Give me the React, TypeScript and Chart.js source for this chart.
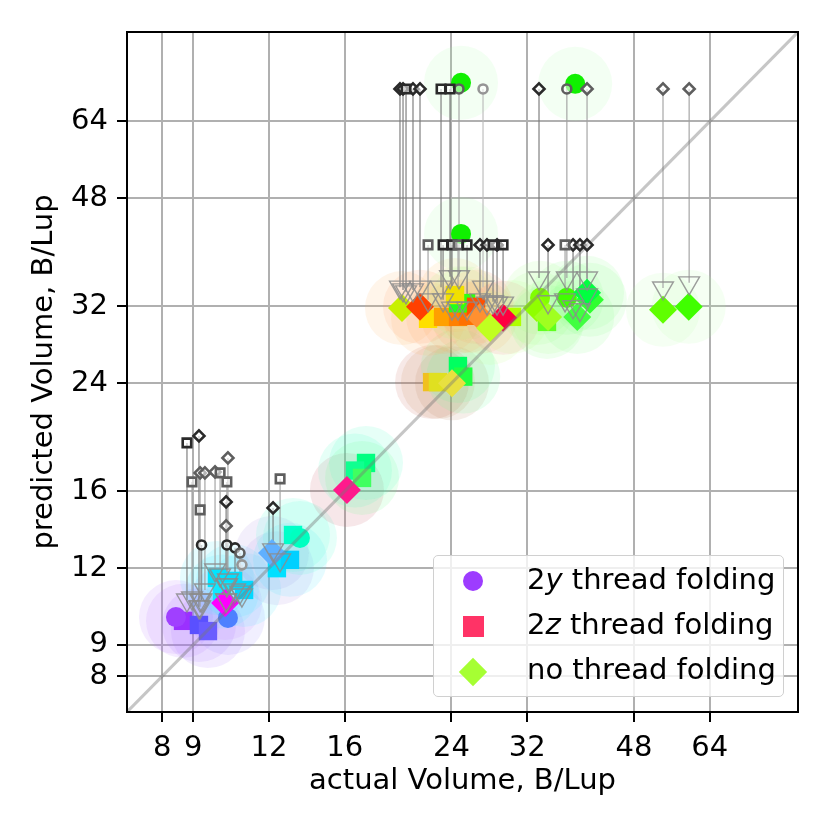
import React, { useEffect, useRef } from "react";
import { Chart, registerables } from "chart.js";

Chart.register(...registerables);

const FONT = "'DejaVu Sans', sans-serif";
const FONT_SIZE = 29;
const AXIS_MIN = 7.0;
const AXIS_MAX = 89.5;
const tickValues = [8, 9, 12, 16, 24, 32, 48, 64];
const xAxisTitle = "actual Volume, B/Lup";
const yAxisTitle = "predicted Volume, B/Lup";

// main measurements (y = 2y thread folding, z = 2z thread folding, n = no thread folding)
const actualVolume = [
  8.66, 8.43, 9.2, 9.52, 10.27, 10.16, 9.85, 10.47, 10.92, 10.04,
  12.14, 12.37, 13.0, 13.15, 13.5,
  16.14, 17.35, 16.64, 17.09,
  22.3, 22.8, 24.05, 24.6, 25.1,
  19.89, 21.3, 21.96, 23.25, 24.61, 25.56, 24.61, 25.37, 24.33, 26.75, 26.35, 29.2, 27.8, 30.2,
  33.2, 33.6, 37.2, 34.64, 34.5, 40.6, 40.17, 38.7, 53.6, 59.1,
  24.89, 38.4, 24.89,
];
const predictedVolume = [
  9.85, 9.99, 9.7, 9.48, 9.96, 10.53, 11.57, 11.44, 11.06, 11.0,
  12.7, 12.0, 12.38, 13.59, 13.44,
  16.09, 17.8, 17.3, 16.83,
  24.1, 24.1, 24.0, 25.6, 24.6,
  31.8, 31.96, 30.55, 30.77, 30.77, 30.9, 32.4, 32.4, 33.4, 30.77, 31.96, 30.66, 29.53, 30.77,
  31.8, 33.05, 33.05, 30.77, 30.2, 32.8, 33.67, 30.77, 31.6, 31.96,
  74.0, 73.7, 42.0,
];
const foldingKind = [
  "z", "y", "z", "z", "y", "n", "z", "z", "z", "z",
  "n", "z", "z", "z", "y",
  "n", "z", "z", "z",
  "z", "z", "n", "z", "z",
  "n", "n", "z", "z", "z", "z", "z", "z", "z", "n", "z", "n", "n", "z",
  "n", "y", "y", "n", "z", "n", "n", "n", "n", "n",
  "y", "y", "y",
];
const pointColors = [
  "#9b30ff", "#a040ff", "#5a50ff", "#6a5cff", "#4d80ff", "#ff00ff", "#00e5ff", "#00e0ff", "#00d8ff", "#10e8ff",
  "#60b0ff", "#00e0ff", "#00d0ff", "#00ffc8", "#00ffc0",
  "#ff1a8c", "#00ff80", "#10ff90", "#40ff60",
  "#f0c020", "#e0e020", "#e8e040", "#00ff60", "#20ff40",
  "#c8f000", "#ff4000", "#ffe000", "#ffa000", "#ff8000", "#ff7000", "#20ff20", "#30ff10", "#f0e000", "#ff9030", "#ff5000", "#ff0040", "#c0ff20", "#b0ff00",
  "#90ff00", "#80ff00", "#40ff00", "#a0ff20", "#60ff20", "#30ff30", "#00ff40", "#40ff40", "#60ff00", "#40ff00",
  "#10f000", "#10f000", "#10f000",
];
const haloColors = [
  "#b070ff", "#b070ff", "#a070ff", "#a070ff", "#9080ff", "#c080ff", "#40e8ff", "#40e8ff", "#40e8ff", "#40e8ff",
  "#a080e0", "#a080e0", "#40e0ff", "#40ffd0", "#40ffd0",
  "#c04858", "#40ffc0", "#40ffc0", "#60ff80",
  "#c05848", "#c07848", "#b07858", "#60ff90", "#60ff90",
  "#ffb060", "#ff9060", "#ffb060", "#ffa060", "#ffa060", "#ff9060", "#a0ff80", "#a0ff80", "#ffc060", "#ffa060", "#ff9060", "#ff6080", "#c0ff80", "#c0ff80",
  "#a0ff80", "#a0ff80", "#80ff80", "#a0ff80", "#80ff80", "#80ff80", "#80ff80", "#80ff80", "#b0ffa0", "#b0ffa0",
  "#a0ffa0", "#a0ffa0", "#a0ffa0",
];

// arrows: earlier prediction -> current prediction
const arrowActual = [
  19.74, 19.97, 20.2, 20.74, 21.3, 23.07, 23.87, 24.7, 27.06, 33.47, 37.2, 40.17, 53.6, 59.2,
  21.96, 23.25, 24.05, 24.61, 25.47, 26.75, 27.47, 28.11, 28.54, 29.2, 34.64, 36.95, 38.09, 39.1, 40.17,
  8.79, 9.2, 8.96, 9.24, 9.41, 9.78, 9.97, 10.27, 10.23, 10.2, 9.24, 10.2, 12.52, 12.19,
  9.29, 10.23, 10.55, 10.75, 10.83,
];
const arrowFrom = [
  72.3, 72.3, 72.3, 72.3, 72.3, 72.3, 72.3, 72.3, 72.3, 72.3, 72.3, 72.3, 72.3, 72.3,
  40.3, 40.3, 40.3, 40.3, 40.3, 40.3, 40.3, 40.3, 40.3, 40.3, 40.3, 40.3, 40.3, 40.3, 40.3,
  19.19, 19.7, 16.58, 17.15, 17.15, 17.21, 17.15, 18.14, 16.58, 15.38, 14.93, 14.06, 16.77, 15.04,
  13.09, 13.09, 12.95, 12.7, 12.15,
];
const arrowTo = [
  34.4, 34.05, 33.8, 34.05, 34.4, 34.4, 35.76, 35.76, 34.4, 35.6, 35.6, 35.6, 34.3, 34.96,
  32.8, 32.8, 31.8, 31.8, 31.8, 32.8, 32.4, 32.56, 32.4, 32.4, 32.56, 32.8, 31.96, 31.6, 33.4,
  10.65, 10.38, 10.73, 10.65, 11.06, 11.92, 11.7, 11.48, 11.27, 10.65, 10.38, 10.65, 12.38, 12.85,
  10.65, 11.27, 11.06, 10.97, 10.85,
];
const arrowKind = [
  "n", "n", "z", "n", "n", "z", "z", "y", "y", "n", "y", "n", "n", "n",
  "z", "z", "z", "z", "z", "n", "n", "z", "n", "z", "n", "z", "n", "n", "n",
  "z", "n", "z", "n", "n", "n", "z", "n", "z", "n", "z", "n", "z", "n",
  "y", "y", "y", "y", "y",
];
const arrowShade = [
  "dark", "dark", "dark", "dark", "dark", "dark", "dark", "mid", "light", "dark", "mid", "mid", "mid", "mid",
  "mid", "dark", "dark", "mid", "dark", "dark", "dark", "dark", "dark", "dark", "dark", "mid", "dark", "dark", "dark",
  "dark", "dark", "mid", "mid", "mid", "mid", "mid", "mid", "mid", "dark", "mid", "mid", "mid", "dark",
  "dark", "dark", "dark", "mid", "light",
];

const legendKinds = ["y", "z", "n"];
const legendColors = ["#9d3cff", "#ff3366", "#a6ff33"];
const legendLead = ["2", "2", ""];
const legendItalic = ["y", "z", ""];
const legendRest = [" thread folding", " thread folding", "no thread folding"];

const styleFor: Record<string, any> = { y: "circle", z: "rect", n: "rectRot" };
const radiusFor: Record<string, number> = { y: 10, z: 13, n: 14 };
const topRadiusFor: Record<string, number> = { y: 4.5, z: 6, n: 5.5 };
const shadeColor: Record<string, string> = { dark: "#2a2a2a", mid: "#5e5e5e", light: "#959595" };
const lineColor: Record<string, string> = {
  dark: "rgba(120,120,120,0.75)",
  mid: "rgba(160,160,160,0.75)",
  light: "rgba(185,185,185,0.75)",
};

const hexToRgba = (hex: string, a: number) => {
  const n = parseInt(hex.slice(1), 16);
  return `rgba(${(n >> 16) & 255},${(n >> 8) & 255},${n & 255},${a})`;
};

const framePlugin = {
  id: "frame",
  afterDatasetsDraw(chart: any) {
    const { ctx, chartArea: a } = chart;
    ctx.save();
    ctx.strokeStyle = "#000";
    ctx.lineWidth = 2;
    ctx.strokeRect(a.left, a.top, a.right - a.left, a.bottom - a.top);
    ctx.restore();
  },
};

function buildConfig(): any {
  const allIdx = actualVolume.map((_, i) => i);
  const pts = (ids: number[]) => ids.map((i) => ({ x: actualVolume[i], y: predictedVolume[i] }));
  const arrIdx = arrowActual.map((_, i) => i);

  const datasets: any[] = [];

  datasets.push({
    label: "halo",
    data: pts(allIdx),
    pointStyle: "circle",
    pointRadius: 37,
    pointBackgroundColor: allIdx.map((i) => hexToRgba(haloColors[i], 0.13)),
    pointBorderWidth: 0,
    order: 10,
  });

  ["light", "mid", "dark"].forEach((sh) => {
    const ids = arrIdx.filter((i) => arrowShade[i] === sh);
    datasets.push({
      label: "arrow-" + sh,
      data: ids.flatMap((i) => [
        { x: arrowActual[i], y: arrowFrom[i] },
        { x: arrowActual[i], y: arrowTo[i] },
        { x: arrowActual[i], y: null },
      ]),
      showLine: true,
      spanGaps: false,
      borderColor: lineColor[sh],
      borderWidth: 1.5,
      pointRadius: 0,
      order: 8,
    });
  });

  const mainOrder: Record<string, number> = { z: 7, y: 6, n: 5 };
  ["z", "y", "n"].forEach((k) => {
    const ids = allIdx.filter((i) => foldingKind[i] === k);
    datasets.push({
      label: "main-" + k,
      data: pts(ids),
      pointStyle: styleFor[k],
      pointRadius: radiusFor[k],
      pointBackgroundColor: ids.map((i) => pointColors[i]),
      pointBorderWidth: 0,
      order: mainOrder[k],
    });
  });

  datasets.push({
    label: "diagonal",
    data: [
      { x: AXIS_MIN, y: AXIS_MIN },
      { x: AXIS_MAX, y: AXIS_MAX },
    ],
    showLine: true,
    borderColor: "rgba(120,120,120,0.42)",
    borderWidth: 3,
    pointRadius: 0,
    order: 4,
  });

  datasets.push({
    label: "heads",
    data: arrIdx.map((i) => ({ x: arrowActual[i], y: arrowTo[i] })),
    pointStyle: "triangle",
    pointRotation: 180,
    pointRadius: 12,
    pointBackgroundColor: "rgba(255,255,255,0)",
    pointBorderColor: "rgba(140,140,140,0.85)",
    pointBorderWidth: 1.4,
    order: 3,
  });

  ["z", "y", "n"].forEach((k) => {
    const ids = arrIdx.filter((i) => arrowKind[i] === k);
    datasets.push({
      label: "old-" + k,
      data: ids.map((i) => ({ x: arrowActual[i], y: arrowFrom[i] })),
      pointStyle: styleFor[k],
      pointRadius: topRadiusFor[k],
      pointBackgroundColor: "rgba(255,255,255,0.55)",
      pointBorderColor: ids.map((i) => shadeColor[arrowShade[i]]),
      pointBorderWidth: 2.6,
      order: 2,
    });
  });

  const axisCommon = (title: string, titlePad: any) => ({
    type: "logarithmic",
    min: AXIS_MIN,
    max: AXIS_MAX,
    afterBuildTicks: (s: any) => {
      s.ticks = tickValues.map((v) => ({ value: v }));
    },
    ticks: {
      autoSkip: false,
      maxRotation: 0,
      minRotation: 0,
      color: "#000",
      padding: 9,
      font: { family: FONT, size: FONT_SIZE },
      callback: (v: any) => String(v),
    },
    grid: {
      color: "#b0b0b0",
      lineWidth: 2,
      drawTicks: true,
      tickLength: 10,
      tickColor: "#000",
      tickWidth: 2,
    },
    border: { display: false },
    title: {
      display: true,
      text: title,
      color: "#000",
      font: { family: FONT, size: FONT_SIZE },
      padding: titlePad,
    },
  });

  return {
    type: "scatter",
    data: { datasets },
    options: {
      responsive: false,
      animation: false,
      devicePixelRatio: 1,
      events: [],
      layout: { autoPadding: false, padding: { top: 32, right: 32, left: 0, bottom: 0 } },
      plugins: { legend: { display: false }, tooltip: { enabled: false } },
      scales: {
        x: {
          ...axisCommon(xAxisTitle, { top: 0, bottom: 31 }),
          position: "bottom",
          afterFit: (s: any) => {
            s.height = 118;
          },
        },
        y: {
          ...axisCommon(yAxisTitle, { top: 27, bottom: 0 }),
          position: "left",
          afterFit: (s: any) => {
            s.width = 127;
          },
        },
      },
    },
    plugins: [framePlugin],
  };
}

function LegendMarker({ kind, color }: { kind: string; color: string }) {
  if (kind === "y") {
    return <div style={{ position: "absolute", left: -10, top: -10, width: 20, height: 20, borderRadius: "50%", background: color }} />;
  }
  if (kind === "z") {
    return <div style={{ position: "absolute", left: -10.5, top: -10.5, width: 21, height: 21, background: color }} />;
  }
  return (
    <div
      style={{
        position: "absolute",
        left: -10,
        top: -10,
        width: 20,
        height: 20,
        background: color,
        transform: "rotate(45deg)",
      }}
    />
  );
}

function Legend() {
  return (
    <div
      style={{
        position: "absolute",
        left: 433,
        top: 555,
        width: 351,
        height: 142,
        boxSizing: "border-box",
        background: "rgba(255,255,255,0.8)",
        border: "1.5px solid #d0d0d0",
        borderRadius: 5,
        fontFamily: FONT,
        fontSize: FONT_SIZE,
        color: "#000",
      }}
    >
      {legendKinds.map((k, i) => (
        <React.Fragment key={k}>
          <div style={{ position: "absolute", left: 39, top: 25 + i * 45.5 }}>
            <LegendMarker kind={k} color={legendColors[i]} />
          </div>
          <div
            style={{
              position: "absolute",
              left: 93,
              top: 6 + i * 45,
              lineHeight: "34px",
              whiteSpace: "nowrap",
            }}
          >
            {legendLead[i]}
            {legendItalic[i] ? <span style={{ fontStyle: "italic" }}>{legendItalic[i]}</span> : null}
            {legendRest[i]}
          </div>
        </React.Fragment>
      ))}
    </div>
  );
}

export default function App() {
  const ref = useRef<HTMLCanvasElement>(null);
  useEffect(() => {
    const chart = new Chart(ref.current as HTMLCanvasElement, buildConfig());
    return () => chart.destroy();
  }, []);
  return (
    <div style={{ position: "absolute", left: 0, top: 0, width: 830, height: 830, background: "#fff" }}>
      <canvas ref={ref} width={830} height={830} style={{ position: "absolute", left: 0, top: 0, width: 830, height: 830 }} />
      <Legend />
    </div>
  );
}
